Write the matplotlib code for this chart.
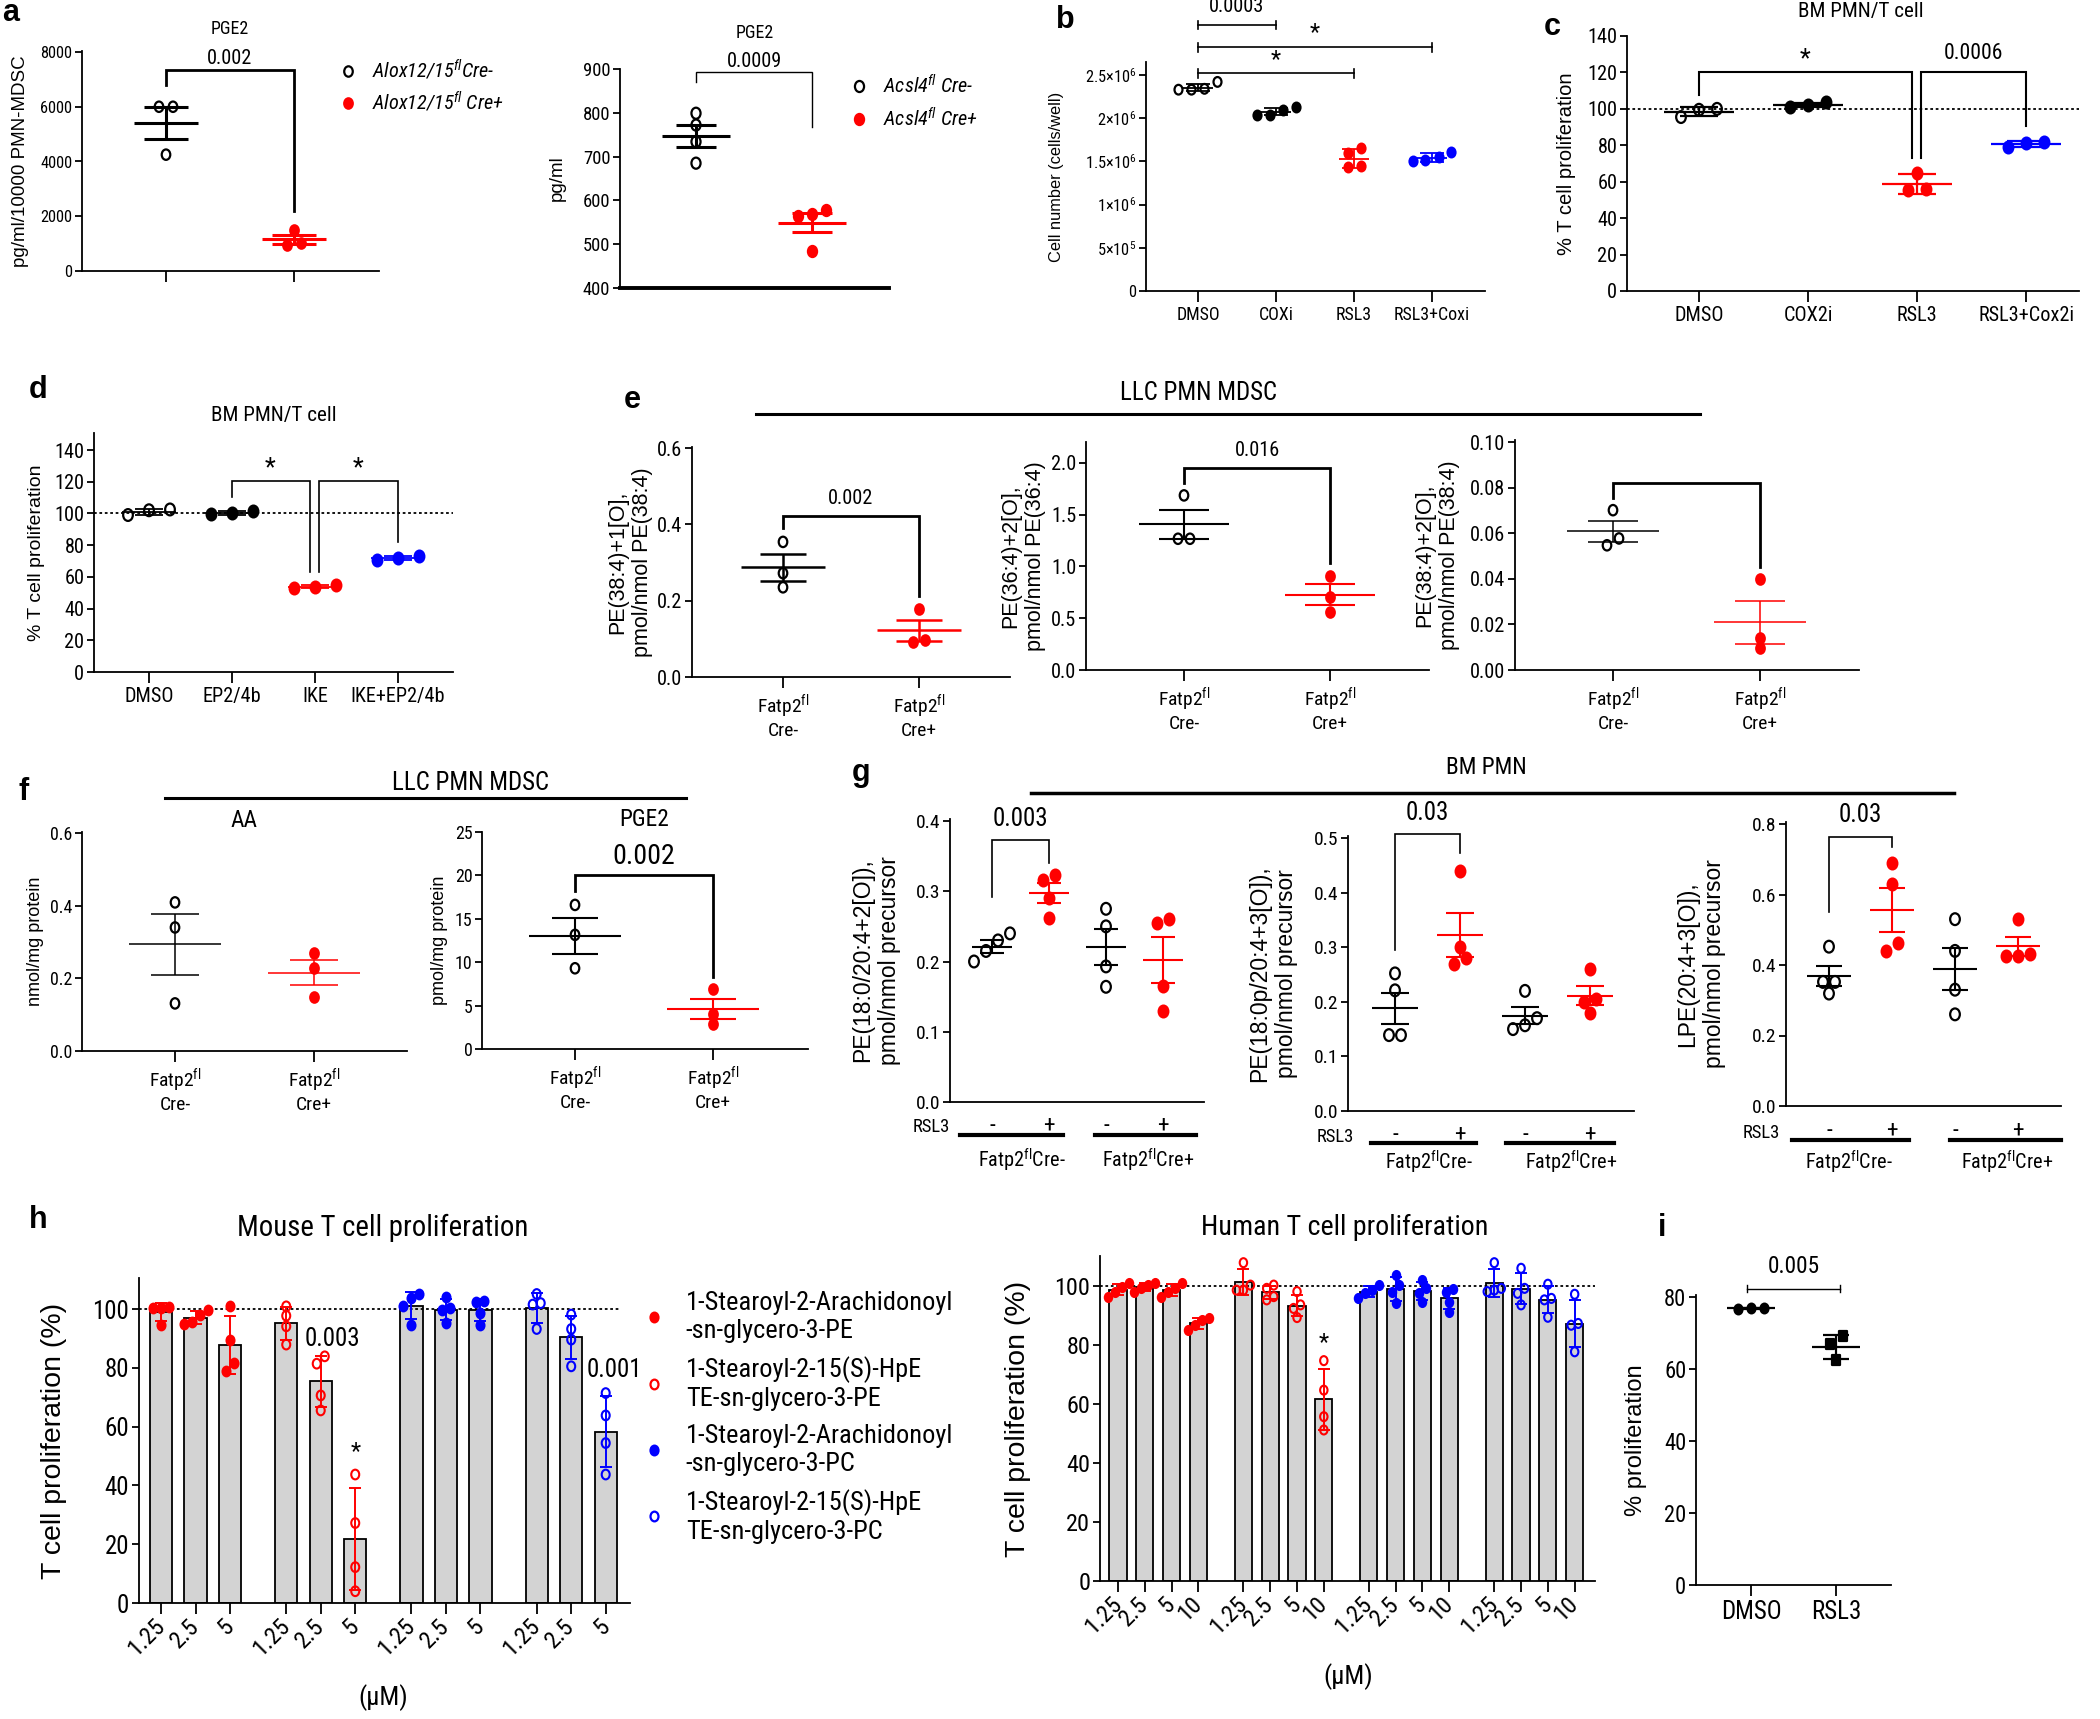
import numpy as np
import matplotlib
matplotlib.use("Agg")
import matplotlib.pyplot as plt
from matplotlib import font_manager
from matplotlib.lines import Line2D
from matplotlib.markers import MarkerStyle
from matplotlib.transforms import Affine2D
from matplotlib.ticker import FormatStrFormatter

W, H = 2100, 1719
WIDE = ["Liberation Sans", "DejaVu Sans"]

# horizontal text in the figure is condensed; use a narrow face when one is installed
NARROW, HS, STRETCH = WIDE, 1.07, "normal"
_faces = font_manager.fontManager.ttflist
for fam, scale in [("Liberation Sans Narrow", 1.17), ("Roboto Condensed", 1.12),
                   ("Open Sans Condensed", 1.1), ("Noto Sans", 1.06)]:
    hit = [f for f in _faces if f.name == fam and f.style == "normal"
           and (fam != "Noto Sans" or f.stretch in ("condensed", "semi-condensed"))]
    if hit:
        NARROW, HS, STRETCH = [fam, "DejaVu Sans"], scale, hit[0].stretch
        break
plt.rcParams["font.family"] = NARROW
plt.rcParams["font.stretch"] = STRETCH
plt.rcParams["mathtext.default"] = "regular"
plt.rcParams["axes.linewidth"] = 1.3

RED = "#ff0000"
BLUE = "#0000ff"
GREY = "#d3d3d3"

# ---------------- data ----------------
# a
alox_labels = ["Alox12/15$^{fl}$Cre-", "Alox12/15$^{fl}$ Cre+"]
alox_neg = [6000, 6000, 4250]
alox_pos = [1500, 950, 1030]
acsl4_labels = ["Acsl4$^{fl}$ Cre-", "Acsl4$^{fl}$ Cre+"]
acsl4_neg = [799, 772, 734, 685]
acsl4_pos = [577, 568, 565, 484]
# b
b_groups = ["DMSO", "COXi", "RSL3", "RSL3+Coxi"]
b_dmso = [2.42e6, 2.34e6, 2.33e6, 2.33e6]
b_coxi = [2.13e6, 2.10e6, 2.04e6, 2.04e6]
b_rsl3 = [1.65e6, 1.60e6, 1.45e6, 1.43e6]
b_combo = [1.61e6, 1.55e6, 1.52e6, 1.50e6]
# c
c_groups = ["DMSO", "COX2i", "RSL3", "RSL3+Cox2i"]
c_dmso = [95.5, 99.5, 100]
c_cox2i = [101, 103.5, 102]
c_rsl3 = [65, 56, 55.5]
c_combo = [79, 82, 81.5]
# d
d_groups = ["DMSO", "EP2/4b", "IKE", "IKE+EP2/4b"]
d_dmso = [99, 102.5, 102]
d_ep = [99.4, 101.7, 100]
d_ike = [53.1, 54.7, 53.7]
d_combo = [70.5, 73.1, 72]
# e
fatp_labels = ["Fatp2$^{fl}$\nCre-", "Fatp2$^{fl}$\nCre+"]
e1_neg = [0.354, 0.272, 0.235]
e1_pos = [0.178, 0.092, 0.098]
e2_neg = [1.687, 1.268, 1.268]
e2_pos = [0.91, 0.71, 0.565]
e3_neg = [0.0701, 0.0577, 0.0547]
e3_pos = [0.0397, 0.0139, 0.0095]
# f
f_aa_neg = [0.409, 0.34, 0.131]
f_aa_pos = [0.269, 0.229, 0.149]
f_pge2_neg = [16.6, 13.15, 9.3]
f_pge2_pos = [6.9, 4.0, 2.9]
# g
g_rsl3 = ["-", "+", "-", "+"]
g_geno = ["Fatp2$^{fl}$Cre-", "Fatp2$^{fl}$Cre+"]
g1_vals = [[0.24, 0.23, 0.215, 0.2], [0.323, 0.316, 0.29, 0.262],
           [0.275, 0.25, 0.193, 0.164], [0.26, 0.255, 0.165, 0.129]]
g2_vals = [[0.252, 0.221, 0.139, 0.139], [0.44, 0.30, 0.28, 0.27],
           [0.22, 0.17, 0.157, 0.15], [0.26, 0.206, 0.2, 0.18]]
g3_vals = [[0.452, 0.352, 0.352, 0.319], [0.69, 0.631, 0.461, 0.44],
           [0.53, 0.44, 0.33, 0.26], [0.53, 0.43, 0.425, 0.425]]
# h
h_series = ["1-Stearoyl-2-Arachidonoyl\n-sn-glycero-3-PE",
            "1-Stearoyl-2-15(S)-HpE\nTE-sn-glycero-3-PE",
            "1-Stearoyl-2-Arachidonoyl\n-sn-glycero-3-PC",
            "1-Stearoyl-2-15(S)-HpE\nTE-sn-glycero-3-PC"]
mouse_conc = ["1.25", "2.5", "5"]
mouse_vals = [
    [[100.8, 100.5, 100.2, 94.5], [99.8, 97.9, 95.5, 95.0], [101.1, 89.6, 81.6, 79.0]],
    [[100.9, 97.7, 94.1, 87.9], [83.9, 81.4, 70.6, 65.5], [43.7, 27.2, 12.2, 4.0]],
    [[103.7, 105.2, 101.1, 94.7], [104.0, 100.3, 99.5, 95.2], [102.8, 102.4, 98.6, 94.7]],
    [[105.1, 102.0, 101.5, 93.2], [98.1, 93.2, 89.6, 80.5], [71.4, 63.8, 54.4, 43.7]],
]
human_conc = ["1.25", "2.5", "5", "10"]
human_vals = [
    [[100.9, 99.8, 98.1, 96.4], [100.9, 100.3, 99.2, 98.1], [100.9, 99.2, 98.1, 96.4], [89.0, 88.5, 86.8, 85.1]],
    [[107.9, 100.3, 98.6, 98.6], [100.3, 99.2, 96.4, 95.3], [98.1, 93.6, 92.4, 89.3], [74.7, 64.7, 55.7, 51.2]],
    [[100.3, 98.6, 97.5, 95.8], [103.7, 100.3, 98.1, 94.1], [102.0, 99.2, 97.5, 94.7], [99.0, 98.1, 94.7, 91.3]],
    [[107.9, 99.2, 98.6, 98.1], [106.0, 99.2, 97.5, 93.6], [100.6, 95.8, 95.3, 89.4], [97.2, 87.3, 86.7, 77.7]],
]
series_color = [RED, RED, BLUE, BLUE]
series_filled = [True, False, True, False]
# i
i_groups = ["DMSO", "RSL3"]
i_dmso = [76.6, 77.0, 76.9]
i_rsl3 = [69.1, 66.9, 62.4]

fig = plt.figure(figsize=(W / 100, H / 100), dpi=100)


# ---------------- helpers ----------------
def fs(size):
    return size * HS


def ptext(x, y, s, size, **kw):
    kw.setdefault("ha", "center")
    kw.setdefault("va", "center")
    return fig.text(x / W, 1 - y / H, s, fontsize=fs(size), **kw)


def atext(ax, x, y, s, size, **kw):
    kw.setdefault("ha", "center")
    kw.setdefault("va", "center")
    return ax.text(x, y, s, fontsize=fs(size), **kw)


def pline(x0, x1, y, lw=2.0):
    fig.add_artist(Line2D([x0 / W, x1 / W], [1 - y / H, 1 - y / H], color="k", lw=lw))


def panel(left, right, p0, v0, p1, v1, ptop, c0, step, tsize):
    ax = fig.add_axes([left / W, 1 - p0 / H, (right - left) / W, (p0 - ptop) / H])
    ppu = (p0 - p1) / (v1 - v0)
    ax.set_ylim(v0, v0 + (p0 - ptop) / ppu)
    ax.set_xlim((left - c0) / step, (right - c0) / step)
    ax.spines[["top", "right"]].set_visible(False)
    ax.tick_params(axis="y", labelsize=fs(tsize), length=5, width=1.3, pad=2)
    ax.tick_params(axis="x", labelsize=fs(tsize), length=8, width=1.3, pad=3)
    return ax


def ylab(ax, x, s, size):
    bb = ax.get_position()
    fig.text(x / W, bb.y0 + bb.height / 2, s, fontsize=size, rotation=90, family=WIDE,
             stretch="normal", ha="center", va="center", multialignment="center")


def swarm(ax, vals, diam, step):
    bb = ax.get_position()
    y0, y1 = ax.get_ylim()
    x0, x1 = ax.get_xlim()
    ypu = bb.height * H / (y1 - y0)
    xpu = bb.width * W / (x1 - x0)
    ypx = np.asarray(vals, float) * ypu
    order = np.argsort(ypx)
    offs = np.zeros(len(ypx))
    clusters, cur = [], [order[0]]
    for a, b in zip(order[:-1], order[1:]):
        if ypx[b] - ypx[a] < diam:
            cur.append(b)
        else:
            clusters.append(cur)
            cur = [b]
    clusters.append(cur)
    for cl in clusters:
        for j, idx in enumerate(cl):
            offs[idx] = (j - (len(cl) - 1) / 2) * step / xpu
    return offs


def marker(m="o"):
    return MarkerStyle(m, transform=Affine2D().scale(0.82, 1.0))


def dots(ax, x, vals, color, filled=True, ms=8, err="sem", hw=0.3, cap=0.17,
         lw=1.5, step=12, m="o", mew=1.6):
    vals = np.asarray(vals, float)
    mu = vals.mean()
    e = vals.std(ddof=1)
    if err == "sem":
        e = e / np.sqrt(len(vals))
    kw = dict(color=color, lw=lw, solid_capstyle="butt", zorder=3)
    ax.plot([x - hw, x + hw], [mu, mu], **kw)
    ax.plot([x, x], [mu - e, mu + e], **kw)
    ax.plot([x - cap, x + cap], [mu + e, mu + e], **kw)
    ax.plot([x - cap, x + cap], [mu - e, mu - e], **kw)
    offs = swarm(ax, vals, ms * 1.25, step)
    ax.scatter(x + offs, vals, s=ms ** 2, marker=marker(m),
               facecolors=color if filled else "none", edgecolors=color,
               linewidths=mew, zorder=4, clip_on=False)


def bracket(ax, x1, x2, y, ya, yb, lw=1.5):
    ax.plot([x1, x1, x2, x2], [ya, y, y, yb], color="k", lw=lw, clip_on=False,
            solid_joinstyle="miter")


def capbracket(ax, x1, x2, y, t, lw=1.2):
    kw = dict(color="k", lw=lw, clip_on=False)
    ax.plot([x1, x2], [y, y], **kw)
    ax.plot([x1, x1], [y - t, y + t], **kw)
    ax.plot([x2, x2], [y - t, y + t], **kw)


def legend_at(ax, handles, labels, x, y, size, spacing, **kw):
    em = size * 100 / 72
    ax.legend(handles, labels, loc="upper left", frameon=False,
              bbox_to_anchor=((x - 0.3 * em) / W, 1 - y / H),
              bbox_transform=fig.transFigure, borderpad=0, borderaxespad=0,
              handlelength=0.6, handletextpad=0.9, labelspacing=spacing, **kw)


def mk_handle(color, filled, ms=8, m="o"):
    return Line2D([], [], ls="", marker=marker(m), ms=ms, mew=1.6, mec=color,
                  mfc=color if filled else "none")


# ---------------- panel a ----------------
ax = panel(82, 379, 271, 0, 52, 8000, 51, 166, 128, 10.5)
ax.set_yticks(range(0, 8001, 2000))
ax.set_xticks([0, 1])
ax.set_xticklabels([])
dots(ax, 0, alox_neg, "k", False, ms=7.5, hw=0.25, cap=0.17, lw=2.2, step=14)
dots(ax, 1, alox_pos, RED, True, ms=7.5, hw=0.25, cap=0.17, lw=2.2, step=14)
bracket(ax, 0, 1, 7354, 6805, 2207, lw=2)
atext(ax, 0.5, 7780, "0.002", 13)
legend_at(ax, [mk_handle("k", False, 7.5), mk_handle(RED, True, 7.5)], alox_labels,
          348, 58, fs(13), 0.4, prop={"style": "italic", "size": fs(13)})
ylab(ax, 21, "pg/ml/10000 PMN-MDSC", 13.5)
ptext(230, 29, "PGE2", 11.5)

ax = panel(620, 889, 288, 400, 69, 900, 69, 696, 116, 12)
ax.set_yticks(range(400, 901, 100))
ax.set_xticks([])
ax.spines["bottom"].set_linewidth(2.8)
dots(ax, 0, acsl4_neg, "k", False, ms=8, hw=0.29, cap=0.17, lw=2.2, step=14)
dots(ax, 1, acsl4_pos, RED, True, ms=8, hw=0.29, cap=0.17, lw=2.2, step=14)
bracket(ax, 0, 1, 894, 871, 768, lw=1.0)
atext(ax, 0.5, 917, "0.0009", 13)
legend_at(ax, [mk_handle("k", False, 8), mk_handle(RED, True, 8)], acsl4_labels,
          859, 74, fs(13), 0.5, prop={"style": "italic", "size": fs(13)})
ylab(ax, 557, "pg/ml", 13.5)
ptext(755, 33, "PGE2", 11.5)

# ---------------- panel b ----------------
ax = panel(1146, 1485, 291, 0, 75, 2.5e6, 62, 1198, 78, 10.5)
ax.set_yticks([0, 5e5, 1e6, 1.5e6, 2e6, 2.5e6])
ax.set_yticklabels(["0", "5×10$^{5}$", "1×10$^{6}$", "1.5×10$^{6}$", "2×10$^{6}$", "2.5×10$^{6}$"])
ax.set_xticks(range(4))
ax.set_xticklabels(b_groups, fontsize=fs(11.5))
for i, (vals, col, fill) in enumerate(zip([b_dmso, b_coxi, b_rsl3, b_combo],
                                          ["k", "k", RED, BLUE],
                                          [False, True, True, True])):
    dots(ax, i, vals, col, fill, ms=7, err="sd", hw=0.19, cap=0.15, lw=1.3, step=13)
capbracket(ax, 0, 1, 3.08e6, 0.05e6)
atext(ax, 0.5, 3.29e6, "0.0003", 13)
capbracket(ax, 0, 3, 2.82e6, 0.05e6)
atext(ax, 1.5, 2.99e6, "*", 15)
capbracket(ax, 0, 2, 2.52e6, 0.05e6)
atext(ax, 1.0, 2.674e6, "*", 15)
ylab(ax, 1057, "Cell number (cells/well)", 11.8)

# ---------------- panel c ----------------
ax = panel(1627, 2079, 291, 0, 36, 140, 36, 1699, 109, 13)
ax.set_yticks(range(0, 141, 20))
ax.set_xticks(range(4))
ax.set_xticklabels(c_groups)
ax.axhline(100, color="k", lw=1.3, ls=(0, (1.5, 1.5)), zorder=1)
for i, (vals, col, fill) in enumerate(zip([c_dmso, c_cox2i, c_rsl3, c_combo],
                                          ["k", "k", RED, BLUE],
                                          [False, True, True, True])):
    dots(ax, i, vals, col, fill, ms=8.5, err="sd", hw=0.32, cap=0.17, lw=1.6, step=18)
bracket(ax, 0, 1.95, 120, 107.6, 72.8)
atext(ax, 0.975, 127, "*", 16)
bracket(ax, 2.04, 3, 120, 72.8, 90.6)
atext(ax, 2.52, 130.5, "0.0006", 14)
ylab(ax, 1567, "% T cell proliferation", 14.5)
ptext(1861, 12, "BM PMN/T cell", 13.5)

# ---------------- panel d ----------------
ax = panel(94, 453, 672, 0, 450, 140, 433, 149, 83, 13)
ax.set_yticks(range(0, 141, 20))
ax.set_xticks(range(4))
ax.set_xticklabels(d_groups)
ax.axhline(100, color="k", lw=1.3, ls=(0, (1.5, 1.5)), zorder=1)
for i, (vals, col, fill) in enumerate(zip([d_dmso, d_ep, d_ike, d_combo],
                                          ["k", "k", RED, BLUE],
                                          [False, True, True, True])):
    dots(ax, i, vals, col, fill, ms=8.5, err="sd", hw=0.32, cap=0.17, lw=1.3, step=21)
bracket(ax, 1, 1.94, 120.6, 110.1, 63.2, lw=1.2)
atext(ax, 1.46, 128.4, "*", 16)
bracket(ax, 2.05, 3, 120.6, 63.2, 81.7, lw=1.2)
atext(ax, 2.52, 128.4, "*", 16)
ylab(ax, 37, "% T cell proliferation", 14)
ptext(274, 415, "BM PMN/T cell", 13.5)

# ---------------- panel e ----------------
ptext(1199, 393, "LLC PMN MDSC", 16)
pline(756, 1700, 414, lw=2.2)
e_specs = [
    ((692, 1010, 677, 0, 448, 0.6, 447, 783, 136), e1_neg, e1_pos, [0, 0.2, 0.4, 0.6], "%.1f",
     (0.423, 0.39, 0.213), "0.002", 0.468, 630, "PE(38:4)+1[O],\npmol/nmol PE(38:4)", 1.8),
    ((1086, 1429, 670, 0, 463, 2.0, 442, 1184, 146), e2_neg, e2_pos, [0, 0.5, 1.0, 1.5, 2.0], "%.1f",
     (1.95, 1.81, 1.03), "0.016", 2.12, 1023, "PE(36:4)+2[O],\npmol/nmol PE(36:4)", 1.5),
    ((1515, 1859, 670, 0, 442, 0.1, 440, 1613, 147), e3_neg, e3_pos, [0, 0.02, 0.04, 0.06, 0.08, 0.10], "%.2f",
     (0.0818, 0.0756, 0.0453), None, None, 1437, "PE(38:4)+2[O],\npmol/nmol PE(38:4)", 1.1),
]
for geom, neg, pos, ticks, fmt, br, ptxt, py, lx, lab, lw in e_specs:
    ax = panel(*geom, 13)
    ax.set_yticks(ticks)
    ax.yaxis.set_major_formatter(FormatStrFormatter(fmt))
    ax.set_xticks([0, 1])
    ax.set_xticklabels(fatp_labels, fontsize=fs(12.5))
    dots(ax, 0, neg, "k", False, ms=7.5, hw=0.31, cap=0.17, lw=lw, step=12)
    dots(ax, 1, pos, RED, True, ms=7.5, hw=0.31, cap=0.17, lw=lw, step=12)
    bracket(ax, 0, 1, br[0], br[1], br[2], lw=2)
    if ptxt:
        atext(ax, 0.5, py, ptxt, 13)
    ylab(ax, lx, lab, 15.5)

# ---------------- panel f ----------------
ptext(470, 783, "LLC PMN MDSC", 16)
pline(165, 686, 798, lw=2.2)
ax = panel(82, 407, 1051, 0, 833, 0.6, 832, 175, 139, 11.5)
ax.set_yticks([0, 0.2, 0.4, 0.6])
ax.yaxis.set_major_formatter(FormatStrFormatter("%.1f"))
ax.set_xticks([0, 1])
ax.set_xticklabels(fatp_labels, fontsize=fs(12.5))
dots(ax, 0, f_aa_neg, "k", False, ms=7.5, hw=0.33, cap=0.17, lw=1.1, step=12)
dots(ax, 1, f_aa_pos, RED, True, ms=7.5, hw=0.33, cap=0.17, lw=1.1, step=12)
ylab(ax, 35, "nmol/mg protein", 13)
ptext(244, 820, "AA", 15)

ax = panel(482, 808, 1049, 0, 832, 25, 832, 575, 138, 11.5)
ax.set_yticks(range(0, 26, 5))
ax.set_xticks([0, 1])
ax.set_xticklabels(fatp_labels, fontsize=fs(12.5))
dots(ax, 0, f_pge2_neg, "k", False, ms=7.5, hw=0.33, cap=0.17, lw=1.5, step=12)
dots(ax, 1, f_pge2_pos, RED, True, ms=7.5, hw=0.33, cap=0.17, lw=1.5, step=12)
bracket(ax, 0, 1, 20, 18.2, 8.3, lw=2)
atext(ax, 0.5, 22.2, "0.002", 18)
ylab(ax, 439, "pmol/mg protein", 13)
ptext(644, 819, "PGE2", 15)

# ---------------- panel g ----------------
ptext(1486, 767, "BM PMN", 15)
pline(1031, 1954, 793, lw=2.5)
g_specs = [
    ((950, 1204, 1102, 0, 821, 0.4, 819, 992, 57), g1_vals, np.arange(0, 0.41, 0.1),
     (0.373, 0.292, 0.34), "0.003", 0.403, 876, "PE(18:0/20:4+2[O]),\npmol/nmol precursor",
     (931, 1127, 1125, 1135, 1160), [(960, 1063), (1095, 1196)], [1022, 1148]),
    ((1348, 1634, 1111, 0, 838, 0.5, 836, 1395, 65), g2_vals, np.arange(0, 0.51, 0.1),
     (0.507, 0.295, 0.473), "0.03", 0.545, 1273, "PE(18:0p/20:4+3[O]),\npmol/nmol precursor",
     (1335, 1137, 1134, 1143, 1162), [(1371, 1476), (1506, 1614)], [1429, 1571]),
    ((1786, 2061, 1106, 0, 824, 0.8, 822, 1829, 63), g3_vals, np.arange(0, 0.81, 0.2),
     (0.764, 0.551, 0.734), "0.03", 0.826, 1701, "LPE(20:4+3[O]),\npmol/nmol precursor",
     (1761, 1133, 1130, 1140, 1162), [(1792, 1909), (1950, 2061)], [1849, 2007]),
]
for geom, vals, ticks, br, ptxt, py, lx, lab, rows, bars, labx in g_specs:
    ax = panel(*geom, 12.5)
    ax.set_yticks(ticks)
    ax.yaxis.set_major_formatter(FormatStrFormatter("%.1f"))
    ax.set_xticks([])
    for i, v in enumerate(vals):
        col = RED if i % 2 else "k"
        dots(ax, i, v, col, bool(i % 2), ms=8.5, hw=0.35, cap=0.21, lw=1.5, step=12)
    bracket(ax, 0, 1, br[0], br[1], br[2], lw=1.2)
    atext(ax, 0.5, py, ptxt, 16)
    ylab(ax, lx, lab, 16.5)
    c0, step = geom[7], geom[8]
    ptext(rows[0], rows[1], "RSL3", 12)
    for i, s in enumerate(g_rsl3):
        ptext(c0 + i * step, rows[2], s, 15)
    for (x0, x1), lx2, gl in zip(bars, labx, g_geno):
        pline(x0, x1, rows[3], lw=3)
        ptext(lx2, rows[4], gl, 13)


# ---------------- panel h ----------------
def bar_panel(ax, vals, gap, width, ms, step):
    npos = len(vals[0])
    for si, series in enumerate(vals):
        pos = np.arange(npos) + si * gap
        means = [np.mean(v) for v in series]
        sds = [np.std(v, ddof=1) for v in series]
        ax.bar(pos, means, width=width, color=GREY, edgecolor="k", lw=1.3, zorder=1)
        ax.errorbar(pos, means, yerr=sds, fmt="none", ecolor=series_color[si],
                    elinewidth=1.4, capsize=4.5, capthick=1.4, zorder=3)
        for p, v in zip(pos, series):
            offs = swarm(ax, v, ms * 1.2, step)
            ax.scatter(p + offs, v, s=ms ** 2, marker=marker("o"),
                       facecolors=series_color[si] if series_filled[si] else "none",
                       edgecolors=series_color[si], linewidths=1.5, zorder=4)
    return np.concatenate([np.arange(npos) + si * gap for si in range(len(vals))])


ax = panel(139, 630, 1603, 0, 1309, 100, 1278, 161, 34.5, 16)
pos = bar_panel(ax, mouse_vals, 3.63, 0.64, 7, 8)
ax.set_yticks(range(0, 101, 20))
ax.set_xticks(pos)
ax.set_xticklabels(mouse_conc * 4, rotation=45, ha="right", va="center",
                   rotation_mode="anchor", fontsize=fs(15.5))
ax.tick_params(axis="x", pad=6)
ax.plot([ax.get_xlim()[0], 13.28], [100, 100], color="k", lw=1.3, ls=(0, (1.5, 1.5)), zorder=2)
atext(ax, 4.17, 89.8, "0.003", 16, ha="left")
atext(ax, pos[5], 51.6, "*", 15)
atext(ax, 12.35, 79.4, "0.001", 16, ha="left")
legend_at(ax, [mk_handle(c, f, 7) for c, f in zip(series_color, series_filled)], h_series,
          654, 1291, fs(17), 0.5, prop={"size": fs(17)})
ylab(ax, 54, "T cell proliferation (%)", 20.5)
ptext(383, 1228, "Mouse T cell proliferation", 18.5)
ptext(383, 1698, "(µM)", 17)

ax = panel(1100, 1595, 1581, 0, 1286, 100, 1256, 1118, 26.8, 15.5)
pos = bar_panel(ax, human_vals, 4.68, 0.64, 6.5, 7)
ax.set_yticks(range(0, 101, 20))
ax.set_xticks(pos)
ax.set_xticklabels(human_conc * 4, rotation=45, ha="right", va="center",
                   rotation_mode="anchor", fontsize=fs(15.5))
ax.tick_params(axis="x", pad=6)
ax.axhline(100, color="k", lw=1.3, ls=(0, (1.5, 1.5)), zorder=2)
atext(ax, pos[7], 81, "*", 15)
ylab(ax, 1018, "T cell proliferation (%)", 20.5)
ptext(1345, 1227, "Human T cell proliferation", 18)
ptext(1348, 1677, "(µM)", 17)

# ---------------- panel i ----------------
ax = panel(1696, 1891, 1585, 0, 1297, 80, 1295, 1751, 85, 14.5)
ax.set_yticks(range(0, 81, 20))
ax.set_xticks([0, 1])
ax.set_xticklabels(i_groups, fontsize=fs(16))
dots(ax, 0, i_dmso, "k", True, ms=7, err="sd", hw=0.28, cap=0.15, lw=1.6, step=13)
dots(ax, 1, i_rsl3, "k", True, ms=7, err="sd", hw=0.28, cap=0.15, lw=1.6, step=13, m="s")
capbracket(ax, -0.05, 1.05, 82.3, 1.0, lw=1.0)
atext(ax, 0.5, 88.6, "0.005", 15)
ylab(ax, 1636, "% proliferation", 17)

# ---------------- panel letters ----------------
for s, x, y in [("a", 11, 13), ("b", 1065, 20), ("c", 1552, 27), ("d", 38, 390),
                ("e", 632, 400), ("f", 24, 792), ("g", 861, 773), ("h", 38, 1220),
                ("i", 1662, 1228)]:
    fig.text(x / W, 1 - y / H, s, fontsize=22, fontweight="bold", family=WIDE,
             stretch="normal", ha="center", va="center")

fig.savefig("out.png", dpi=100)
